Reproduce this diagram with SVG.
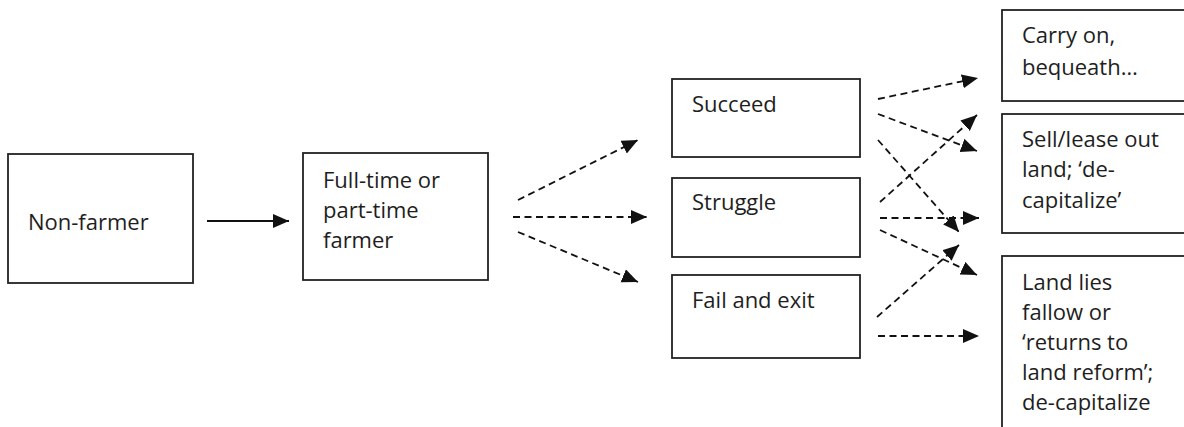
<svg xmlns="http://www.w3.org/2000/svg" width="1184" height="427" viewBox="0 0 1184 427">
<style>
.box{fill:#fff;stroke:#222;stroke-width:1.8}
.t{font-family:"Open Sans","Liberation Sans",sans-serif;font-size:22px;fill:#1e1e1e}
.c{stroke:#111;stroke-width:1.8;fill:none;marker-end:url(#ah)}
.d{stroke-dasharray:7,4.5}
</style>
<defs>
<marker id="ah" markerUnits="userSpaceOnUse" markerWidth="18" markerHeight="16" refX="16" refY="7" orient="auto">
<path d="M0,0 L16,7 L0,14 z" fill="#111"/>
</marker>
</defs>
<rect width="1184" height="427" fill="#fff"/>
<g id="connectors">
<line class="c" x1="207" y1="221" x2="289" y2="221"/>
<line class="c d" x1="518" y1="200" x2="638" y2="140"/>
<line class="c d" x1="513" y1="217" x2="647" y2="217"/>
<line class="c d" x1="518" y1="232" x2="638" y2="282"/>
<line class="c d" x1="878" y1="99" x2="978" y2="78"/>
<line class="c d" x1="878" y1="114" x2="977" y2="151"/>
<line class="c d" x1="878" y1="140" x2="959" y2="232"/>
<line class="c d" x1="880" y1="202" x2="977" y2="115"/>
<line class="c d" x1="880" y1="218" x2="979" y2="218"/>
<line class="c d" x1="880" y1="230" x2="977" y2="275"/>
<line class="c d" x1="877" y1="317" x2="959" y2="245"/>
<line class="c d" x1="878" y1="336" x2="979" y2="336"/>
</g>
<g id="nonfarmer">
<rect class="box" x="8" y="154" width="185" height="129"/>
<text class="t" x="28" y="230">Non-farmer</text>
</g>
<g id="farmer">
<rect class="box" x="303" y="153" width="185" height="127"/>
<text class="t" x="323" y="188">Full-time or</text>
<text class="t" x="323" y="218">part-time</text>
<text class="t" x="323" y="248">farmer</text>
</g>
<g id="succeed">
<rect class="box" x="672" y="79" width="188" height="78"/>
<text class="t" x="692" y="112">Succeed</text>
</g>
<g id="struggle">
<rect class="box" x="672" y="178" width="188" height="79"/>
<text class="t" x="692" y="210">Struggle</text>
</g>
<g id="fail">
<rect class="box" x="672" y="275" width="188" height="83"/>
<text class="t" x="692" y="308">Fail and exit</text>
</g>
<g id="carryon">
<rect class="box" x="1002" y="10" width="200" height="91"/>
<text class="t" x="1022" y="43">Carry on,</text>
<text class="t" x="1022" y="75">bequeath…</text>
</g>
<g id="sell">
<rect class="box" x="1002" y="114" width="200" height="119"/>
<text class="t" x="1022" y="147">Sell/lease out</text>
<text class="t" x="1022" y="177">land; ‘de-</text>
<text class="t" x="1022" y="208">capitalize’</text>
</g>
<g id="fallow">
<rect class="box" x="1002" y="256" width="200" height="200"/>
<text class="t" x="1022" y="290">Land lies</text>
<text class="t" x="1022" y="320">fallow or</text>
<text class="t" x="1022" y="350">‘returns to</text>
<text class="t" x="1022" y="380">land reform’;</text>
<text class="t" x="1022" y="410">de-capitalize</text>
</g>
</svg>
